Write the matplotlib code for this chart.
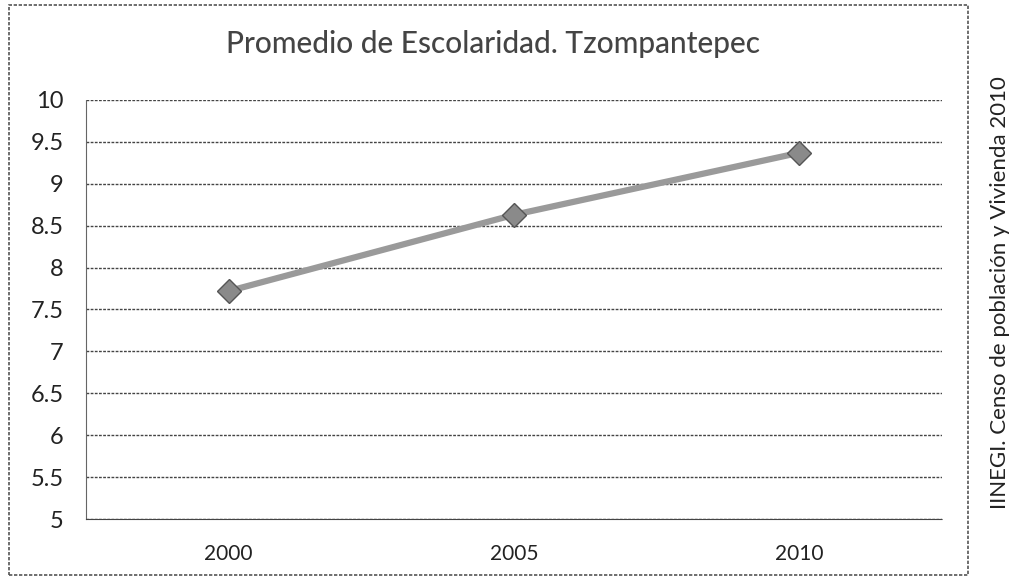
import matplotlib.pyplot as plt
from matplotlib.patches import Rectangle

plt.rcParams['font.family'] = ['Lato', 'DejaVu Sans']

# data
years = ['2000', '2005', '2010']
escolaridad = [7.72, 8.63, 9.37]
y_ticks = [5, 5.5, 6, 6.5, 7, 7.5, 8, 8.5, 9, 9.5, 10]

W, H = 1010, 580
fig = plt.figure(figsize=(W / 100, H / 100), dpi=100)
ax = fig.add_axes([86 / W, 1 - 519 / H, (942 - 86) / W, (519 - 100) / H])

x = range(len(years))
ax.plot(x, escolaridad, color='#9a9a9a', lw=4.5, solid_capstyle='butt', zorder=3)
ax.plot(x, escolaridad, ls='none', marker='D', ms=12, mfc='#8a8a8a',
        mec='#555555', mew=1, zorder=4)

ax.set_xlim(-0.5, 2.5)
ax.set_ylim(5, 10)
ax.set_xticks(list(x))
ax.set_xticklabels(years, fontsize=15)
ax.set_yticks(y_ticks)
ax.set_yticklabels(['%g' % v for v in y_ticks], fontsize=17)
ax.tick_params(length=0, colors='#222222')
ax.tick_params(axis='x', pad=18)
ax.tick_params(axis='y', pad=16)
ax.grid(axis='y', color='#444444', lw=1.0, ls=(0, (2, 1)))
ax.set_axisbelow(True)
for s in ['top', 'right']:
    ax.spines[s].set_visible(False)
ax.spines['left'].set_color('#666666')
ax.spines['left'].set_linestyle((0, (2, 1)))
ax.spines['bottom'].set_color('#444444')
ax.spines['bottom'].set_linestyle((0, (2, 1)))

fig.text(493 / W, 1 - 44 / H, 'Promedio de Escolaridad. Tzompantepec',
         ha='center', va='center', fontsize=21.5, color='#444444', weight='medium')

fig.text(1000 / W, 1 - 293 / H, 'IINEGI. Censo de población y Vivienda 2010',
         rotation=90, ha='center', va='center', fontsize=16, color='#222222')

# outer chart border
fig.patches.append(Rectangle((9 / W, 1 - 575 / H), (968 - 9) / W, (575 - 5) / H,
                             transform=fig.transFigure, fill=False,
                             ec='#555555', lw=1.2, ls=(0, (2, 1))))

fig.savefig('out.png', dpi=100)
